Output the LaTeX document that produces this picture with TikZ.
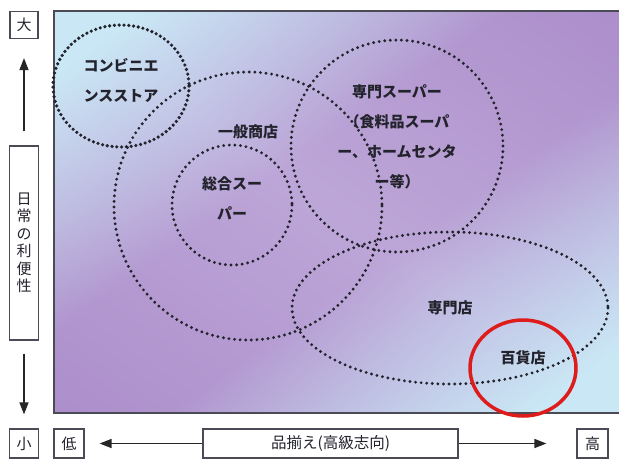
\documentclass[tikz,border=0pt]{standalone}
\usepackage{fontspec}
\newfontfamily\jp{Noto Sans CJK JP}
\usetikzlibrary{arrows.meta}
\definecolor{ink}{RGB}{35,35,45}
\definecolor{framec}{RGB}{75,75,85}
\definecolor{redc}{RGB}{222,28,28}
\pgfdeclarefunctionalshading{chartbg}{\pgfpointorigin}{\pgfpoint{100bp}{100bp}}{}{
 75 exch sub 50 div
 exch 25 sub 50 div
 2 copy sub abs
 3 1 roll
 add 2 div 0.5 sub abs
 0.1 sub 0.32 div
 dup abs exch 1 sub abs sub 1 add 2 div
 1 index -0.065 mul 0.74 add
 1 index 1 exch sub mul
 1 index 0.79 mul add
 3 1 roll
 1 index -0.09 mul 0.65 add
 1 index 1 exch sub mul
 1 index 0.905 mul add
 3 1 roll
 1 index -0.05 mul 0.845 add
 1 index 1 exch sub mul
 1 index 0.96 mul add
 3 1 roll
 pop pop
}
\tikzset{
  lbl/.style={font=\jp\bfseries\fontsize{15}{30}\selectfont, text=ink, align=center, inner sep=0pt},
  axbox/.style={draw=framec, line width=1.2pt, fill=white, font=\jp\fontsize{15}{17.5}\selectfont, text=ink, align=center, inner sep=0pt},
  dotline/.style={draw=ink, line width=3.2pt, line cap=round, dash pattern=on 0pt off 5.6pt},
  dotbig/.style={draw=ink, line width=3.6pt, line cap=round, dash pattern=on 0pt off 4.8pt},
  axarrow/.style={draw=black!85, line width=1.4pt, -{Triangle[length=12pt,width=9pt]}}
}
\begin{document}
\begin{tikzpicture}[x=1pt,y=-1pt]
\useasboundingbox (0,0) rectangle (619,459);
\fill[white] (0,0) rectangle (619,459);
% chart background
\shade[shading=chartbg] (54,11) rectangle (619,413);
\draw[framec, line width=1.6pt] (619,11) -- (54,11) -- (54,413) -- (619,413);
% ellipses
\draw[dotline] (248,206) circle [radius=134];
\draw[dotline] (232,205) circle [radius=60];
\draw[dotline] (397,146) circle [radius=106];
\draw[dotline] (450,308) ellipse [x radius=158, y radius=76];
\draw[dotbig] (121,86) ellipse [x radius=68, y radius=61];
\draw[redc, line width=3.5pt] (523,368) ellipse [x radius=53, y radius=48];
% labels
\node[lbl] (conv) at (121,80) {コンビニエ\\ンスストア};
\node[lbl] (ippan) at (248,132) {一般商店};
\node[lbl] (sogo) at (232,198) {総合スー\\パー};
\node[lbl] (senspr) at (397,137) {専門スーパー\\（食料品スーパ\\ー、ホームセンタ\\ー等）};
\node[lbl] (senmon) at (450,308) {専門店};
\node[lbl] (hyakka) at (523,358) {百貨店};
% vertical axis
\node[axbox, minimum width=28pt, minimum height=27pt] (dai) at (24,25) {大};
\node[axbox, minimum width=29pt, minimum height=194pt] (benri) at (24,243) {日\\常\\の\\利\\便\\性};
\node[axbox, minimum width=29pt, minimum height=29pt] (sho) at (24,443.5) {小};
\draw[axarrow, shorten <=14pt, shorten >=19pt] (benri.north) -- (dai.south);
\draw[axarrow, shorten <=13pt, shorten >=14pt] (benri.south) -- (sho.north);
% horizontal axis
\node[axbox, minimum width=30pt, minimum height=29pt] (tei) at (69,443.5) {低};
\node[axbox, minimum width=255pt, minimum height=29pt, font=\jp\fontsize{15.5}{17.5}\selectfont] (shina) at (330.5,443.5) {品揃え(高級志向)};
\node[axbox, minimum width=31pt, minimum height=29pt] (ko) at (592.5,443.5) {高};
\draw[axarrow, shorten >=15pt] (shina.west) -- (tei.east);
\draw[axarrow, shorten >=30pt] (shina.east) -- (ko.west);
\end{tikzpicture}
\end{document}
